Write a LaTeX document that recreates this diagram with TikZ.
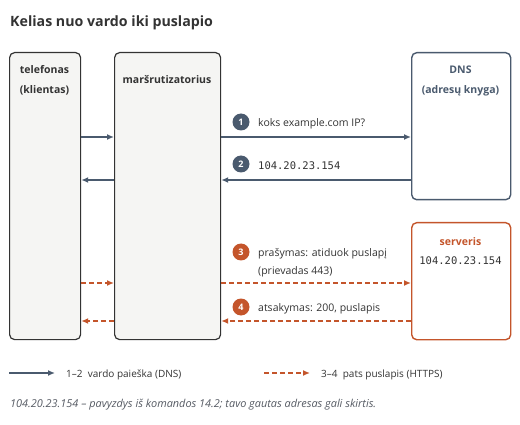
\documentclass[tikz,border=0pt]{standalone}
\usepackage{fontspec}
\setmainfont{Open Sans}
\setmonofont{DejaVu Sans Mono}
\usetikzlibrary{arrows.meta}
\definecolor{slate}{HTML}{4A5A6E}
\definecolor{rust}{HTML}{C4552B}
\definecolor{boxfill}{HTML}{F5F5F3}
\definecolor{ink}{HTML}{333333}
\definecolor{note}{HTML}{555A63}
\tikzset{
  hostbox/.style={draw=ink, fill=boxfill, line width=1.2pt, rounded corners=5pt, anchor=north west, inner sep=0pt},
  peerbox/.style={fill=white, line width=1.4pt, rounded corners=5pt, anchor=north west, inner sep=0pt},
  head/.style={font=\bfseries\fontsize{10.5}{12}\selectfont, text=ink, align=center, inner sep=0pt},
  lbl/.style={font=\fontsize{10.5}{12}\selectfont, text=ink, anchor=west, inner sep=0pt},
  mono/.style={font=\ttfamily\fontsize{10.5}{12}\selectfont, text=ink, inner sep=0pt},
  badge/.style={circle, inner sep=0pt, minimum size=17pt, text=white, font=\bfseries\fontsize{9}{10}\selectfont},
  dnsarr/.style={draw=slate, line width=1.4pt, -{Latex[length=7pt,width=6pt]}},
  webarr/.style={draw=rust, line width=1.4pt, dash pattern=on 5pt off 3pt, -{Latex[length=7pt,width=6pt]}},
}
\begin{document}
\begin{tikzpicture}[x=1pt,y=-1pt]
\useasboundingbox[fill=white] (0,0) rectangle (520,425);
\node[anchor=base west, inner sep=0pt, font=\bfseries\fontsize{14.2}{17}\selectfont, text=ink] (title) at (10,27) {Kelias nuo vardo iki puslapio};

\node[hostbox, minimum width=71pt, minimum height=287pt] (phone) at (9,52) {};
\node[hostbox, minimum width=106pt, minimum height=287pt] (router) at (114,52) {};
\node[peerbox, draw=slate, minimum width=99pt, minimum height=147pt] (dns) at (411,52) {};
\node[peerbox, draw=rust, minimum width=99pt, minimum height=117pt] (server) at (411,222) {};

\node[head, anchor=base] (phonet1) at (44.5,74) {telefonas};
\node[head, anchor=base] (phonet2) at (44.5,94) {(klientas)};
\node[head, anchor=base] (routert) at (167,84) {maršrutizatorius};
\node[head, anchor=base, text=slate] (dnst1) at (460.5,74) {DNS};
\node[head, anchor=base, text=slate] (dnst2) at (460.5,94) {(adresų knyga)};
\node[head, anchor=base, text=rust] (servt) at (460.5,245) {serveris};
\node[mono, anchor=base] (servip) at (460.5,265) {104.20.23.154};

\coordinate (y1) at (0,137);
\coordinate (y2) at (0,180);
\coordinate (y3) at (0,283);
\coordinate (y4) at (0,321);

\draw[dnsarr] (phone.east |- y1) -- (router.west |- y1);
\draw[dnsarr] (router.east |- y1) -- (dns.west |- y1);
\draw[dnsarr] (dns.west |- y2) -- (router.east |- y2);
\draw[dnsarr] (router.west |- y2) -- (phone.east |- y2);
\draw[webarr] (phone.east |- y3) -- (router.west |- y3);
\draw[webarr] (router.east |- y3) -- (server.west |- y3);
\draw[webarr] (server.west |- y4) -- (router.east |- y4);
\draw[webarr] (router.west |- y4) -- (phone.east |- y4);

\node[badge, fill=slate] (b1) at (241,122) {1};
\node[badge, fill=slate] (b2) at (241,164) {2};
\node[badge, fill=rust] (b3) at (241,252) {3};
\node[badge, fill=rust] (b4) at (241,307) {4};

\node[lbl, anchor=base west] (l1) at (258,127) {koks example.com IP?};
\node[mono, anchor=base west] (l2) at (258,170) {104.20.23.154};
\node[lbl, anchor=base west] (l3a) at (258,257) {prašymas: atiduok puslapį};
\node[lbl, anchor=base west] (l3b) at (258,275) {(prievadas 443)};
\node[lbl, anchor=base west] (l4) at (258,312) {atsakymas: 200, puslapis};

\coordinate (k1a) at (9,373);
\coordinate (k1b) at (55,373);
\coordinate (k2a) at (264,373);
\coordinate (k2b) at (310,373);
\draw[dnsarr] (k1a) -- (k1b);
\draw[webarr] (k2a) -- (k2b);
\node[lbl, font=\fontsize{10}{12}\selectfont, anchor=base west] (k1t) at (66,377) {1–2\ \ vardo paieška (DNS)};
\node[lbl, font=\fontsize{10}{12}\selectfont, anchor=base west] (k2t) at (321,377) {3–4\ \ pats puslapis (HTTPS)};

\node[anchor=base west, inner sep=0pt, text=note, font=\itshape\fontsize{10.9}{12}\selectfont] (foot) at (10,407) {104.20.23.154 – pavyzdys iš komandos 14.2; tavo gautas adresas gali skirtis.};
\end{tikzpicture}
\end{document}
